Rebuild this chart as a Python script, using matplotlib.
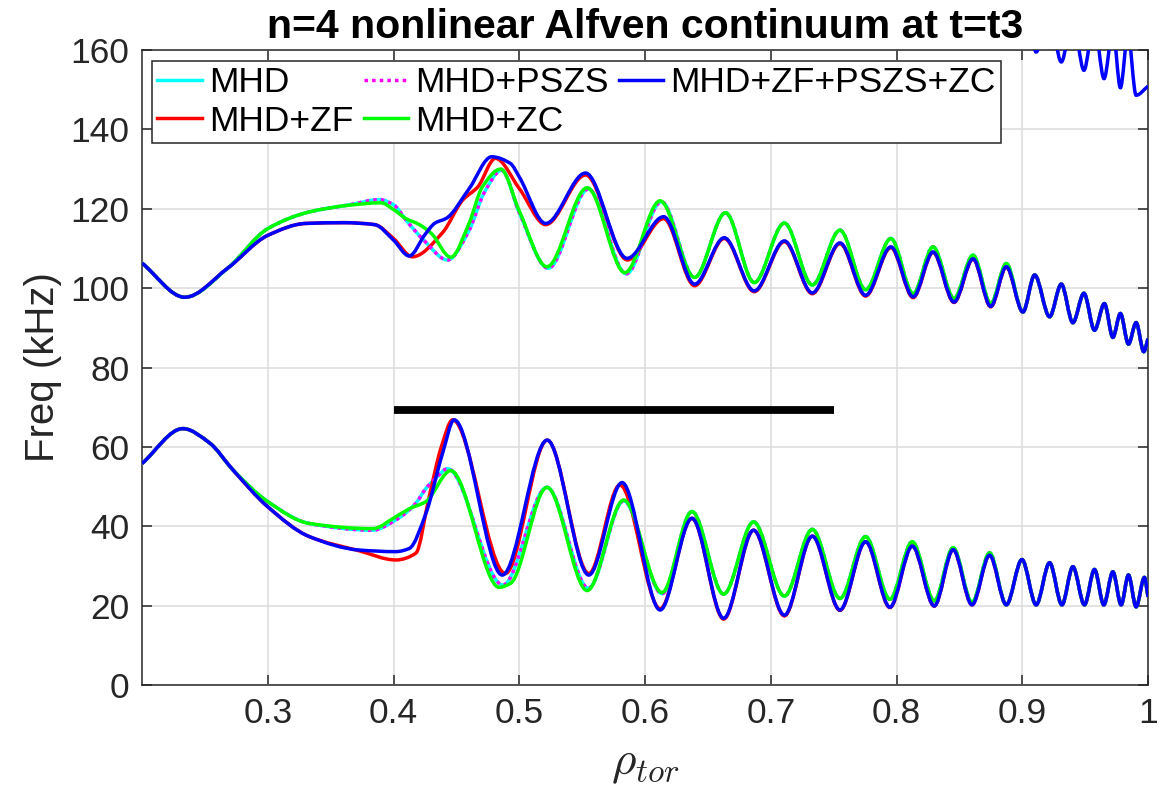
import numpy as np
import matplotlib
matplotlib.use("Agg")
import matplotlib.pyplot as plt
from matplotlib.path import Path
from matplotlib.patches import PathPatch
from matplotlib.lines import Line2D

plt.rcParams['font.family'] = ['Liberation Sans', 'DejaVu Sans']
plt.rcParams['mathtext.fontset'] = 'cm'

# ---- data (rho_tor, frequency in kHz) ----
# upper continuum branch, all runs coincide on the left and far right
up_head_x = [0.200, 0.234, 0.268]
up_head_y = [106.3, 97.7, 105.0]
up_tail_x = [0.9005, 0.9098, 0.9217, 0.9310, 0.9402, 0.9490, 0.9574, 0.9653,
             0.9720, 0.9780, 0.9844, 0.9905, 0.9966, 1.000]
up_tail_y = [94.0, 103.3, 92.8, 101.0, 91.3, 98.7, 89.4, 96.1,
             87.6, 93.6, 85.9, 91.3, 84.0, 87.3]

mhd_up_x = [0.300, 0.333, 0.365, 0.389, 0.400, 0.411, 0.424, 0.443, 0.460, 0.472,
            0.486, 0.500, 0.523, 0.555, 0.585, 0.613, 0.6394, 0.664, 0.6868, 0.7108,
            0.733, 0.755, 0.7754, 0.7955, 0.8132, 0.829, 0.8457, 0.8608, 0.8749, 0.8873]
mhd_up_y = [115.0, 119.2, 121.0, 122.3, 121.0, 116.7, 112.1, 107.1, 114.5, 124.0,
            129.7, 119.0, 105.0, 125.0, 103.6, 121.8, 102.7, 119.0, 101.4, 116.4,
            100.8, 114.6, 99.6, 112.5, 98.6, 110.4, 97.4, 108.3, 96.1, 106.2]

zf_up_x = [0.300, 0.330, 0.360, 0.385, 0.400, 0.415, 0.439, 0.455, 0.467, 0.481,
           0.500, 0.521, 0.5527, 0.586, 0.6148, 0.6394, 0.663, 0.6868, 0.7108, 0.733,
           0.755, 0.7754, 0.7955, 0.8132, 0.829, 0.8457, 0.8608, 0.8749, 0.8873]
zf_up_y = [113.3, 116.3, 116.5, 116.0, 112.5, 107.9, 114.0, 122.2, 125.5, 132.7,
           125.1, 116.0, 128.5, 107.1, 117.5, 100.6, 112.5, 99.1, 111.7, 98.6,
           111.2, 98.0, 110.2, 97.6, 109.0, 96.4, 107.3, 95.3, 105.3]

zc_up_x = [0.300, 0.333, 0.365, 0.390, 0.400, 0.410, 0.420, 0.430, 0.4455, 0.460,
           0.4706, 0.4852, 0.4998, 0.522, 0.554, 0.584, 0.612, 0.6394, 0.664, 0.6868,
           0.7108, 0.733, 0.755, 0.7754, 0.7955, 0.8132, 0.829, 0.8457, 0.8608, 0.8749,
           0.8873]
zc_up_y = [115.0, 119.2, 120.9, 121.5, 119.8, 117.5, 116.1, 113.8, 107.8, 116.3,
           125.5, 130.0, 119.6, 105.4, 125.3, 103.9, 122.0, 102.7, 119.0, 101.4,
           116.4, 100.8, 114.6, 99.6, 112.5, 98.6, 110.4, 97.4, 108.3, 96.1,
           106.2]

all_up_x = [0.300, 0.330, 0.360, 0.385, 0.400, 0.4125, 0.425, 0.433, 0.442, 0.460,
            0.478, 0.493, 0.500, 0.521, 0.5527, 0.5857, 0.6148, 0.6394, 0.663, 0.6868,
            0.7108, 0.733, 0.755, 0.7754, 0.7955, 0.8132, 0.829, 0.8457, 0.8608, 0.8749,
            0.8873]
all_up_y = [113.3, 116.3, 116.5, 116.0, 112.1, 108.1, 113.5, 116.4, 117.6, 125.0,
            133.1, 131.4, 128.0, 116.3, 129.0, 107.5, 118.0, 101.0, 112.7, 99.3,
            111.9, 98.8, 111.4, 98.2, 110.4, 97.8, 109.1, 96.5, 107.4, 95.4,
            105.4]

# third (highest) branch of the full run, only visible near the edge
all_top_x = [0.895, 0.903, 0.911, 0.921, 0.931, 0.940, 0.949, 0.957, 0.965, 0.972,
             0.978, 0.984, 0.9905, 1.000]
all_top_y = [161.5, 172.0, 159.5, 170.0, 157.0, 168.0, 154.9, 167.0, 152.8, 165.0,
             150.5, 164.0, 148.6, 150.9]

# lower continuum branch
low_head_x = [0.200, 0.2325, 0.2537, 0.272]
low_head_y = [55.8, 64.6, 61.0, 54.3]
low_tail_x = [0.8873, 0.8997, 0.911, 0.9217, 0.9315, 0.9402, 0.9494, 0.9574,
              0.9648, 0.972, 0.9786, 0.9844, 0.9905, 0.9971, 1.000]
low_tail_y = [20.2, 31.6, 20.2, 30.8, 20.2, 29.8, 20.2, 29.1,
              20.2, 28.5, 20.2, 27.7, 19.7, 27.1, 22.2]

mhd_low_x = [0.300, 0.333, 0.3833, 0.4018, 0.4177, 0.4257, 0.4336, 0.443, 0.487, 0.522,
             0.555, 0.583, 0.6135, 0.6373, 0.6625, 0.6863, 0.7108, 0.733, 0.755, 0.7754,
             0.7947, 0.8125, 0.830, 0.845, 0.860, 0.874]
mhd_low_y = [46.2, 40.7, 39.0, 41.6, 45.8, 49.5, 52.1, 54.5, 25.2, 49.8,
             24.4, 46.4, 23.0, 43.7, 22.9, 41.1, 22.4, 39.2, 21.8, 37.4,
             21.6, 36.1, 21.2, 34.6, 20.8, 33.3]

zf_low_x = [0.300, 0.333, 0.3728, 0.4018, 0.4177, 0.4283, 0.438, 0.447, 0.489, 0.5222,
            0.5553, 0.580, 0.612, 0.6373, 0.6625, 0.6863, 0.7108, 0.733, 0.755, 0.7754,
            0.7947, 0.8125, 0.830, 0.845, 0.860, 0.874]
zf_low_y = [44.9, 37.4, 33.8, 31.5, 33.2, 47.4, 60.0, 66.8, 28.1, 61.7,
            28.1, 50.4, 19.2, 42.0, 16.6, 39.0, 17.4, 37.5, 18.8, 36.1,
            19.5, 35.0, 19.9, 34.1, 20.2, 32.7]

zc_low_x = [0.300, 0.333, 0.3833, 0.4018, 0.4125, 0.4257, 0.4455, 0.484, 0.493, 0.522,
            0.554, 0.583, 0.6135, 0.6373, 0.6625, 0.6863, 0.7108, 0.733, 0.755, 0.7754,
            0.7947, 0.8125, 0.830, 0.845, 0.860, 0.874]
zc_low_y = [46.2, 40.7, 39.4, 42.4, 44.4, 46.2, 54.0, 24.6, 25.6, 49.8,
            23.8, 46.6, 23.3, 43.7, 22.9, 41.1, 22.4, 39.2, 21.8, 37.4,
            21.6, 36.1, 21.2, 34.6, 20.8, 33.3]

all_low_x = [0.300, 0.333, 0.3728, 0.4018, 0.4125, 0.4257, 0.439, 0.4482, 0.4865, 0.5222,
             0.5553, 0.5817, 0.612, 0.6373, 0.6625, 0.6863, 0.7108, 0.733, 0.755, 0.7754,
             0.7947, 0.8125, 0.830, 0.845, 0.860, 0.874]
all_low_y = [44.9, 37.4, 34.0, 33.6, 34.4, 43.2, 58.4, 66.8, 27.7, 61.7,
             27.7, 51.0, 18.9, 42.0, 16.8, 39.0, 17.6, 37.5, 18.9, 36.1,
             19.6, 35.0, 19.9, 34.1, 20.2, 32.7]

# frequency gap marker
gap_rho = [0.40, 0.75]
gap_freq = [69.3, 69.3]

runs = ['MHD', 'MHD+ZF', 'MHD+PSZS', 'MHD+ZC', 'MHD+ZF+PSZS+ZC']


def smooth_path(xs, ys):
    """Cubic Bezier path through the points, flat at local extrema."""
    x = np.asarray(xs, float)
    y = np.asarray(ys, float)
    h = np.diff(x)
    d = np.diff(y) / h
    m = np.zeros_like(x)
    for i in range(1, len(x) - 1):
        if d[i - 1] * d[i] > 0:
            w1 = 2 * h[i] + h[i - 1]
            w2 = h[i] + 2 * h[i - 1]
            m[i] = (w1 + w2) / (w1 / d[i - 1] + w2 / d[i])
    m[0] = d[0]
    m[-1] = d[-1]
    verts = [(x[0], y[0])]
    codes = [Path.MOVETO]
    for i in range(len(x) - 1):
        verts += [(x[i] + h[i] / 3, y[i] + m[i] * h[i] / 3),
                  (x[i + 1] - h[i] / 3, y[i + 1] - m[i + 1] * h[i] / 3),
                  (x[i + 1], y[i + 1])]
        codes += [Path.CURVE4] * 3
    return Path(verts, codes)


fig = plt.figure(figsize=(11.69, 7.94), dpi=100)
ax = fig.add_axes([0.1215, 0.1373, 0.8606, 0.7997])

lw = 2.5
styles = {
    'MHD': dict(color='#00ffff', ls='-'),
    'MHD+ZF': dict(color='#ff0000', ls='-'),
    'MHD+PSZS': dict(color='#ff00ff', ls=(0, (1, 1.2))),
    'MHD+ZC': dict(color='#00ff00', ls='-'),
    'MHD+ZF+PSZS+ZC': dict(color='#0000ff', ls='-'),
}
branches = {
    'MHD': [(up_head_x + mhd_up_x + up_tail_x, up_head_y + mhd_up_y + up_tail_y),
            (low_head_x + mhd_low_x + low_tail_x, low_head_y + mhd_low_y + low_tail_y)],
    'MHD+ZF': [(up_head_x + zf_up_x + up_tail_x, up_head_y + zf_up_y + up_tail_y),
               (low_head_x + zf_low_x + low_tail_x, low_head_y + zf_low_y + low_tail_y)],
    'MHD+PSZS': [(up_head_x + mhd_up_x + up_tail_x, up_head_y + mhd_up_y + up_tail_y),
                 (low_head_x + mhd_low_x + low_tail_x, low_head_y + mhd_low_y + low_tail_y)],
    'MHD+ZC': [(up_head_x + zc_up_x + up_tail_x, up_head_y + zc_up_y + up_tail_y),
               (low_head_x + zc_low_x + low_tail_x, low_head_y + zc_low_y + low_tail_y)],
    'MHD+ZF+PSZS+ZC': [(up_head_x + all_up_x + up_tail_x, up_head_y + all_up_y + up_tail_y),
                       (low_head_x + all_low_x + low_tail_x, low_head_y + all_low_y + low_tail_y),
                       (all_top_x, all_top_y)],
}

handles = []
for k, name in enumerate(runs):
    st = styles[name]
    for bx, by in branches[name]:
        patch = PathPatch(smooth_path(bx, by), fill=False, edgecolor=st['color'],
                          lw=lw, linestyle=st['ls'], zorder=3 + k)
        ax.add_patch(patch)
    handles.append(Line2D([], [], color=st['color'], lw=lw, ls=st['ls'], label=name))

ax.plot(gap_rho, gap_freq, color='k', lw=5.6, solid_capstyle='butt', zorder=10)

ax.set_xlim(0.2, 1.0)
ax.set_ylim(0, 160)
ax.set_xticks([0.3, 0.4, 0.5, 0.6, 0.7, 0.8, 0.9, 1.0])
ax.set_xticklabels(['0.3', '0.4', '0.5', '0.6', '0.7', '0.8', '0.9', '1'])
ax.set_yticks(np.arange(0, 161, 20))
ax.grid(True, color='#dedede', lw=1.2, zorder=0)
ax.set_axisbelow(True)
ax.tick_params(direction='in', top=True, right=True, length=7, width=1.1,
               labelsize=25.5, colors='#262626', pad=9)
for s in ax.spines.values():
    s.set_color('#262626')
    s.set_linewidth(1.1)

ax.set_title('n=4 nonlinear Alfven continuum at t=t3', fontsize=29.5,
             fontweight='bold', pad=9)
ax.set_ylabel('Freq (kHz)', fontsize=29, color='#262626', labelpad=6)
ax.set_xlabel(r'$\rho_{tor}$', fontsize=34, color='#262626', labelpad=8)

leg = ax.legend(handles=handles, ncol=3, loc='upper left',
                bbox_to_anchor=(0.0099, 0.9827), borderaxespad=0,
                fontsize=25.5, handlelength=1.25, handletextpad=0.2,
                columnspacing=0.3, labelspacing=0.15, borderpad=0.15,
                fancybox=False, framealpha=1)
leg.get_frame().set_edgecolor('#262626')
leg.get_frame().set_linewidth(1.1)
leg.set_zorder(20)

fig.savefig('out.png', dpi=100)
